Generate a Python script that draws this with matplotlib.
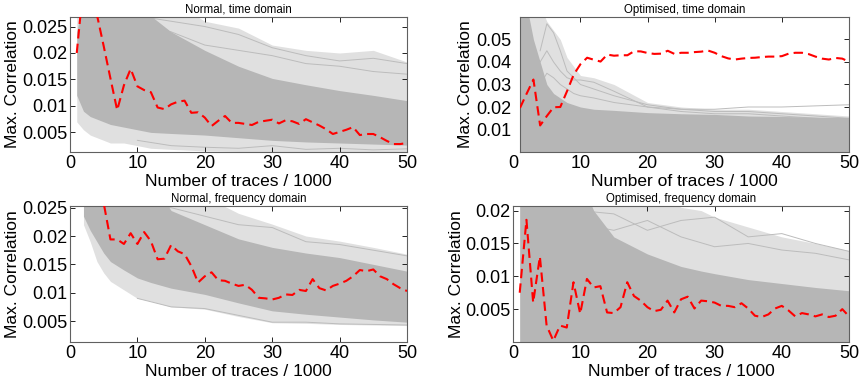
import matplotlib
matplotlib.use("Agg")
import matplotlib.pyplot as plt
from matplotlib import transforms

plt.rcParams['font.family'] = ['Liberation Sans', 'DejaVu Sans']

# ---------------- data ----------------
x_traces = list(range(1, 51))

tl_title = "Normal, time domain"
tr_title = "Optimised, time domain"
bl_title = "Normal, frequency domain"
br_title = "Optimised, frequency domain"

# correct-key correlation (red dashed)
tl_red = [0.020, 0.033, 0.034, 0.0272, 0.0213, 0.0152, 0.0092, 0.0139, 0.0170, 0.0137,
          0.0130, 0.0126, 0.0097, 0.0094, 0.0103, 0.0108, 0.0110, 0.0087, 0.0088, 0.0078,
          0.0062, 0.0072, 0.0081, 0.0068, 0.0068, 0.0066, 0.0064, 0.0070, 0.0072, 0.0074,
          0.0067, 0.0073, 0.0071, 0.0066, 0.0075, 0.0069, 0.0063, 0.0056, 0.0047, 0.0051,
          0.0055, 0.0060, 0.0045, 0.0047, 0.0047, 0.0041, 0.0034, 0.0028, 0.0028, 0.0030]
tr_red = [0.0196, 0.026, 0.0322, 0.0118, 0.016, 0.0199, 0.0200, 0.027, 0.0344, 0.039,
          0.0419, 0.041, 0.0402, 0.0433, 0.0428, 0.0430, 0.0430, 0.0448, 0.0447, 0.0440,
          0.0436, 0.0437, 0.0450, 0.0436, 0.0441, 0.0441, 0.0444, 0.0446, 0.0451, 0.0441,
          0.0426, 0.0416, 0.0411, 0.0415, 0.0418, 0.0419, 0.0422, 0.0424, 0.0424, 0.0426,
          0.0437, 0.0441, 0.0441, 0.0435, 0.0424, 0.0415, 0.0411, 0.0418, 0.0415, 0.0401]
bl_red = [0.040, 0.036, 0.032, 0.029, 0.0258, 0.0194, 0.0194, 0.0186, 0.0205, 0.0186,
          0.0207, 0.0191, 0.0159, 0.0160, 0.0184, 0.0173, 0.0168, 0.0147, 0.0118, 0.0129,
          0.0136, 0.0122, 0.0121, 0.0116, 0.0112, 0.0114, 0.0105, 0.0091, 0.0090, 0.0088,
          0.0091, 0.0097, 0.0096, 0.0105, 0.0103, 0.0124, 0.0108, 0.0104, 0.0112, 0.0116,
          0.0121, 0.0129, 0.0140, 0.0138, 0.0141, 0.0129, 0.0124, 0.0115, 0.0108, 0.0103]
br_red = [0.0075, 0.0186, 0.0060, 0.0130, 0.0025, 0.0002, 0.0025, 0.0022, 0.0091, 0.0043,
          0.0096, 0.0083, 0.0085, 0.0045, 0.0044, 0.0053, 0.0091, 0.0070, 0.0063, 0.0053,
          0.0047, 0.0049, 0.0063, 0.0045, 0.0065, 0.0069, 0.0051, 0.0063, 0.0062, 0.0060,
          0.0055, 0.0055, 0.0053, 0.0059, 0.0051, 0.0040, 0.0038, 0.0042, 0.0051, 0.0055,
          0.0048, 0.0039, 0.0044, 0.0042, 0.0039, 0.0042, 0.0038, 0.0040, 0.0050, 0.0039]

# wrong-key traces: envelopes of the dense core and of the sparse fringe
tl_env_x = [1, 2, 3, 4, 5, 6, 8, 10, 12, 15, 20, 25, 30, 35, 40, 45, 50]
tl_sparse_lo = [0.007, 0.0055, 0.0045, 0.004, 0.0035, 0.003, 0.003, 0.0025, 0.002, 0.0018,
                0.0015, 0.0014, 0.0014, 0.0014, 0.0014, 0.0014, 0.0014]
tl_dense_lo = [0.012, 0.009, 0.008, 0.0075, 0.007, 0.0065, 0.006, 0.0055, 0.005, 0.0048,
               0.0045, 0.004, 0.0035, 0.0032, 0.003, 0.0028, 0.0026]
tl_dense_hi = [0.024, 0.03, 0.03, 0.03, 0.03, 0.03, 0.03, 0.03, 0.027, 0.024,
               0.0205, 0.0175, 0.0152, 0.014, 0.0129, 0.012, 0.011]
tl_sparse_hi = [0.03, 0.03, 0.03, 0.03, 0.03, 0.03, 0.03, 0.03, 0.03, 0.03,
                0.026, 0.0247, 0.0215, 0.0205, 0.020, 0.0205, 0.0183]

tr_env_x = [1, 2, 3, 4, 5, 6, 7, 8, 10, 12, 15, 20, 25, 30, 35, 40, 45, 50]
tr_sparse_lo = [0.0] * 18
tr_dense_lo = [0.0] * 18
tr_dense_hi = [0.065, 0.065, 0.05, 0.04, 0.03, 0.026, 0.024, 0.022, 0.020, 0.019, 0.0185,
               0.0175, 0.017, 0.0167, 0.016, 0.0158, 0.0155, 0.0153]
tr_sparse_hi = [0.065, 0.065, 0.065, 0.065, 0.058, 0.054, 0.05, 0.042, 0.034, 0.033, 0.03,
                0.022, 0.020, 0.019, 0.019, 0.018, 0.017, 0.016]

bl_env_x = [2, 3, 4, 5, 6, 8, 10, 12, 15, 20, 25, 30, 35, 40, 45, 50]
bl_sparse_lo = [0.022, 0.019, 0.0155, 0.0135, 0.012, 0.0105, 0.009, 0.0085, 0.0075, 0.0071,
                0.0058, 0.0047, 0.0046, 0.0044, 0.0043, 0.0042]
bl_dense_lo = [0.0235, 0.021, 0.019, 0.017, 0.0155, 0.014, 0.0126, 0.0118, 0.0108, 0.0097,
               0.0082, 0.0068, 0.0062, 0.0057, 0.0052, 0.0048]
bl_dense_hi = [0.03, 0.03, 0.03, 0.03, 0.03, 0.03, 0.03, 0.03, 0.0245, 0.022,
               0.0195, 0.018, 0.017, 0.0162, 0.015, 0.0138]
bl_sparse_hi = [0.03, 0.03, 0.03, 0.03, 0.03, 0.03, 0.03, 0.03, 0.03, 0.027,
                0.024, 0.0221, 0.020, 0.0191, 0.018, 0.0168]

br_env_x = [1, 2, 4, 6, 8, 10, 12, 15, 20, 25, 28, 30, 35, 40, 45, 50]
br_sparse_lo = [0.0] * 16
br_dense_lo = [0.0] * 16
br_dense_hi = [0.025, 0.025, 0.025, 0.025, 0.025, 0.025, 0.020, 0.016, 0.0134, 0.0115,
               0.0108, 0.0104, 0.0095, 0.0089, 0.0083, 0.0078]
br_sparse_hi = [0.025, 0.025, 0.025, 0.025, 0.025, 0.025, 0.025, 0.025, 0.025, 0.0205,
                0.020, 0.019, 0.0175, 0.016, 0.015, 0.0139]

# a few individual outlying wrong-key traces
tl_extra_x = [10, 15, 20, 25, 30, 35, 40, 45, 50]
tl_extra = [[0.027, 0.026, 0.025, 0.0235, 0.021, 0.0195, 0.0185, 0.019, 0.018],
            [0.025, 0.024, 0.0215, 0.0205, 0.0195, 0.018, 0.0175, 0.0165, 0.016],
            [0.0035, 0.0025, 0.0022, 0.0020, 0.0025, 0.0018, 0.0020, 0.0017, 0.0019]]
tr_extra_x = [4, 5, 6, 7, 8, 9, 10, 12, 15, 20, 25, 30, 35, 40, 45, 50]
tr_extra = [[0.045, 0.057, 0.053, 0.045, 0.036, 0.033, 0.030, 0.028, 0.025, 0.021, 0.019,
             0.018, 0.018, 0.017, 0.016, 0.015],
            [0.030, 0.035, 0.033, 0.030, 0.028, 0.026, 0.025, 0.024, 0.022, 0.020, 0.019,
             0.019, 0.020, 0.020, 0.0205, 0.021],
            [0.040, 0.045, 0.040, 0.036, 0.033, 0.032, 0.032, 0.031, 0.027, 0.020, 0.018,
             0.017, 0.017, 0.016, 0.015, 0.014]]
bl_extra_x = [10, 15, 20, 25, 30, 35, 40, 45, 50]
bl_extra = [[0.0255, 0.025, 0.0235, 0.022, 0.0215, 0.019, 0.0185, 0.0175, 0.0165],
            [0.0090, 0.0075, 0.0072, 0.0060, 0.0048, 0.0048, 0.0045, 0.0044, 0.0043]]
br_extra_x = [10, 15, 20, 25, 30, 35, 40, 45, 50]
br_extra = [[0.020, 0.0195, 0.017, 0.0185, 0.019, 0.016, 0.0165, 0.015, 0.0138],
            [0.018, 0.017, 0.0185, 0.016, 0.0145, 0.015, 0.014, 0.0135, 0.0125]]

x_ticks = [0, 10, 20, 30, 40, 50]
tl_yticks = [0.005, 0.01, 0.015, 0.02, 0.025]
tl_yticklabels = ["0.005", "0.01", "0.015", "0.02", "0.025"]
tr_yticks = [0.01, 0.02, 0.03, 0.04, 0.05]
tr_yticklabels = ["0.01", "0.02", "0.03", "0.04", "0.05"]
bl_yticks = [0.005, 0.01, 0.015, 0.02, 0.025]
bl_yticklabels = ["0.005", "0.01", "0.015", "0.02", "0.025"]
br_yticks = [0.005, 0.01, 0.015, 0.02]
br_yticklabels = ["0.005", "0.01", "0.015", "0.02"]

xlabel = "Number of traces / 1000"
ylabel = "Max. Correlation"

# ---------------- figure ----------------
W, H = 860, 382
fig = plt.figure(figsize=(W / 100, H / 100), dpi=100)


def rect(l, r, t, b):
    return [l / W, 1 - b / H, (r - l) / W, (b - t) / H]


DENSE = "#b6b6b6"
SPARSE = "#e0e0e0"
LINE = "#bcbcbc"
TICK_FS = 13.0
XPAD = 2.5


def panel(pos, title, red, ex, slo, dlo, dhi, shi, extra_x, extra, ylim, xlim,
          yticks, yticklabels, ypad, ylab_x, zero_label=False):
    ax = fig.add_axes(pos)
    ax.fill_between(ex, slo, shi, color=SPARSE, lw=0, zorder=1)
    ax.fill_between(ex, dlo, dhi, color=DENSE, lw=0, zorder=2)
    for ys in extra:
        ax.plot(extra_x, ys, color=LINE, lw=0.7, zorder=1.5)
    ax.plot(x_traces, red, color="#ff0000", lw=1.5, ls=(0, (4.5, 2.5)), zorder=5)
    ax.set_xlim(*xlim)
    ax.set_ylim(*ylim)
    ax.set_xticks([t for t in x_ticks if xlim[0] <= t <= xlim[1]])
    ax.set_yticks(yticks)
    ax.set_yticklabels(yticklabels)
    ax.tick_params(direction="in", top=True, right=True, length=3.5, width=0.6,
                   labelsize=TICK_FS, colors="#000000")
    ax.tick_params(axis="x", pad=XPAD)
    ax.tick_params(axis="y", pad=ypad)
    for s in ax.spines.values():
        s.set_color("#606060")
        s.set_linewidth(0.8)
    ax.set_title(title, fontsize=8.3, pad=3)
    ax.set_xlabel(xlabel, fontsize=12.5)
    ax.set_ylabel(ylabel, fontsize=12.5)
    ax.xaxis.set_label_coords(0.5, -0.215)
    ax.xaxis.label.set_va("center")
    ax.yaxis.set_label_coords(ylab_x, 0.5)
    ax.yaxis.label.set_va("center")
    if zero_label:
        tr = transforms.offset_copy(ax.get_xaxis_transform(), fig=fig, y=-XPAD,
                                    units="points")
        ax.text(0, 0, "0", transform=tr, ha="center", va="top", fontsize=TICK_FS,
                clip_on=False)
    return ax


panel(rect(70, 407, 17, 152), tl_title, tl_red, tl_env_x, tl_sparse_lo, tl_dense_lo,
      tl_dense_hi, tl_sparse_hi, tl_extra_x, tl_extra, (0.0013, 0.0268), (0, 50),
      tl_yticks, tl_yticklabels, 2, -0.172)
panel(rect(520, 849, 17, 152), tr_title, tr_red, tr_env_x, tr_sparse_lo, tr_dense_lo,
      tr_dense_hi, tr_sparse_hi, tr_extra_x, tr_extra, (0.0, 0.0600), (1, 50),
      tr_yticks, tr_yticklabels, 6, -0.167, zero_label=True)
panel(rect(70, 407, 206, 342), bl_title, bl_red, bl_env_x, bl_sparse_lo, bl_dense_lo,
      bl_dense_hi, bl_sparse_hi, bl_extra_x, bl_extra, (0.0013, 0.0253), (0, 50),
      bl_yticks, bl_yticklabels, 2, -0.172)
panel(rect(513, 849, 206, 342), br_title, br_red, br_env_x, br_sparse_lo, br_dense_lo,
      br_dense_hi, br_sparse_hi, br_extra_x, br_extra, (0.0, 0.0207), (0, 50),
      br_yticks, br_yticklabels, 2, -0.167)

fig.savefig("out.png", dpi=100)
